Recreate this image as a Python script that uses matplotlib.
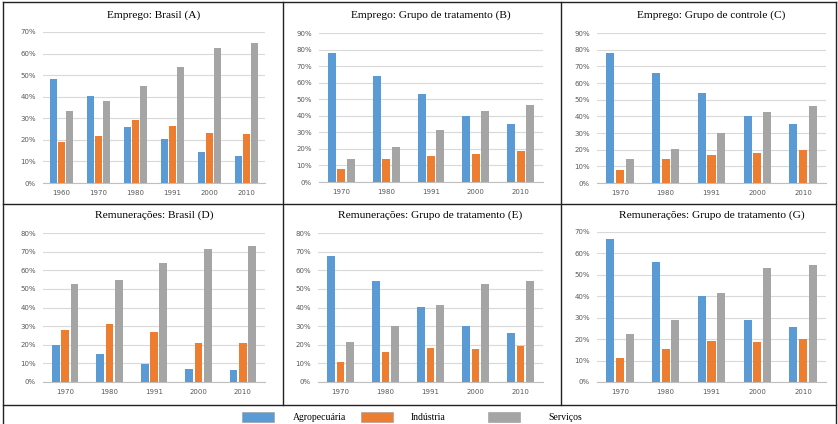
import matplotlib
matplotlib.use("Agg")
import matplotlib.pyplot as plt
from matplotlib.lines import Line2D
from matplotlib.patches import Rectangle
from matplotlib.ticker import MultipleLocator, PercentFormatter

# ---- data (shares, %) ----
years_a = ["1960", "1970", "1980", "1991", "2000", "2010"]
years = ["1970", "1980", "1991", "2000", "2010"]

emp_br_agro = [48.2, 40.2, 26.0, 20.4, 14.5, 12.7]
emp_br_ind = [18.9, 21.9, 29.4, 26.6, 23.2, 22.7]
emp_br_serv = [33.2, 38.0, 45.0, 53.6, 62.6, 65.1]

emp_trat_agro = [78.0, 64.3, 53.1, 39.9, 34.9]
emp_trat_ind = [7.8, 13.8, 15.8, 17.0, 18.6]
emp_trat_serv = [13.8, 21.4, 31.3, 43.1, 46.5]

emp_ctrl_agro = [78.2, 66.0, 54.2, 40.0, 35.4]
emp_ctrl_ind = [8.0, 14.2, 16.6, 18.0, 19.6]
emp_ctrl_serv = [14.6, 20.2, 30.2, 42.8, 46.0]

rem_br_agro = [19.8, 14.9, 9.9, 7.2, 6.7]
rem_br_ind = [27.9, 31.1, 26.6, 21.2, 20.7]
rem_br_serv = [52.7, 54.5, 63.8, 71.6, 72.8]

rem_trat_agro = [67.6, 54.4, 40.5, 30.3, 26.4]
rem_trat_ind = [10.9, 16.0, 18.0, 17.5, 19.4]
rem_trat_serv = [21.7, 29.9, 41.4, 52.4, 54.4]

rem_g_agro = [66.6, 56.1, 40.1, 28.8, 25.7]
rem_g_ind = [11.2, 15.6, 19.0, 18.5, 20.1]
rem_g_serv = [22.6, 28.9, 41.4, 53.0, 54.7]

setores = ["Agropecuária", "Indústria", "Serviços"]
cores = ["#5B9BD5", "#ED7D31", "#A5A5A5"]

W, H = 838, 424
fig = plt.figure(figsize=(W / 100, H / 100), dpi=100)
fig.patch.set_facecolor("white")
serif = "Liberation Serif"


def box(x0, x1, y_top, y_bot):
    # pixel box -> figure fraction
    return [x0 / W, 1 - y_bot / H, (x1 - x0) / W, (y_bot - y_top) / H]


def painel(rect, titulo, title_y, cats, series, ymax):
    ax = fig.add_axes(box(*rect))
    n = len(cats)
    xs = range(n)
    step, largura = 0.21, 0.175
    for k, (vals, cor) in enumerate(zip(series, cores)):
        ax.bar([x + (k - 1) * step for x in xs], vals, width=largura,
               color=cor, zorder=3)
    ax.set_xlim(-0.5, n - 0.5)
    ax.set_ylim(0, ymax)
    ax.yaxis.set_major_locator(MultipleLocator(10))
    ax.yaxis.set_major_formatter(PercentFormatter(decimals=0))
    ax.set_xticks(list(xs))
    ax.set_xticklabels(cats)
    ax.grid(axis="y", color="#D9D9D9", lw=0.8, zorder=0)
    for s in ["top", "right", "left"]:
        ax.spines[s].set_visible(False)
    ax.spines["bottom"].set_color("#BFBFBF")
    ax.spines["bottom"].set_linewidth(0.8)
    ax.tick_params(length=0, labelsize=5, colors="#595959", pad=5)
    cx = (rect[0] + rect[1]) / 2
    fig.text(cx / W, 1 - title_y / H, titulo, ha="center", va="center",
             fontsize=8.2, family=serif)
    return ax


painel((43, 265, 32, 183), "Emprego: Brasil (A)", 15, years_a,
       [emp_br_agro, emp_br_ind, emp_br_serv], 70)
painel((319, 543, 33, 182), "Emprego: Grupo de tratamento (B)", 15, years,
       [emp_trat_agro, emp_trat_ind, emp_trat_serv], 90)
painel((597, 826, 33, 183), "Emprego: Grupo de controle (C)", 15, years,
       [emp_ctrl_agro, emp_ctrl_ind, emp_ctrl_serv], 90)
painel((43, 265, 233, 382), "Remunerações: Brasil (D)", 215, years,
       [rem_br_agro, rem_br_ind, rem_br_serv], 80)
painel((318, 543, 233, 382), "Remunerações: Grupo de tratamento (E)", 215, years,
       [rem_trat_agro, rem_trat_ind, rem_trat_serv], 80)
painel((597, 826, 232, 382), "Remunerações: Grupo de tratamento (G)", 215, years,
       [rem_g_agro, rem_g_ind, rem_g_serv], 70)


# panel frame lines
def linha(x0, y0, x1, y1):
    fig.add_artist(Line2D([x0 / W, x1 / W], [1 - y0 / H, 1 - y1 / H],
                          color="#222222", lw=1.0))


linha(3, 2, 836, 2)
linha(3, 2, 3, 424)
linha(836, 2, 836, 424)
linha(3, 204, 836, 204)
linha(3, 405, 836, 405)
linha(283, 2, 283, 405)
linha(561, 2, 561, 405)

# legend row
leg_x = [242, 361, 488]
txt_x = [293, 411, 548]
for nome, cor, px, tx in zip(setores, cores, leg_x, txt_x):
    fig.add_artist(Rectangle((px / W, 1 - 422 / H), 32 / W, 10 / H,
                             facecolor=cor, edgecolor="#9A9A9A", lw=0.4))
    fig.text(tx / W, 1 - 417 / H, nome, ha="left", va="center",
             fontsize=7, family=serif)

fig.savefig("out.png", dpi=100)
